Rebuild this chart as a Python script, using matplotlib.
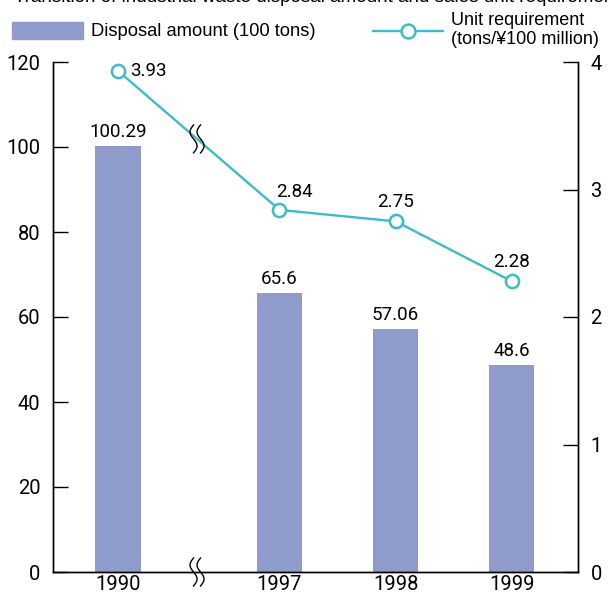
import numpy as np
import matplotlib
matplotlib.use("Agg")
import matplotlib.pyplot as plt
import matplotlib.transforms as mtransforms
from matplotlib.lines import Line2D
from matplotlib.patches import Rectangle

years = ['1990', '1997', '1998', '1999']
disposal = [100.29, 65.6, 57.06, 48.6]
unit_req = [3.93, 2.84, 2.75, 2.28]
disposal_labels = ['100.29', '65.6', '57.06', '48.6']
unit_labels = ['3.93', '2.84', '2.75', '2.28']
left_ticks = [0, 20, 40, 60, 80, 100, 120]
right_ticks = [0, 1, 2, 3, 4]

bar_color = '#8f9bcb'
line_color = '#3bbcc8'
num_font = ['Roboto', 'DejaVu Sans']
txt_font = ['Liberation Sans', 'DejaVu Sans']

# x positions: gap between 1990 and 1997 is wider (axis break)
x_pos = np.array([0, 1.39, 2.39, 3.39])
x_break = 0.68

fig = plt.figure(figsize=(6.11, 5.94), dpi=100)
ax = fig.add_axes([53 / 611, 22 / 594, 525 / 611, 510 / 594])
ax2 = ax.twinx()

ax.bar(x_pos, disposal, width=0.39, color=bar_color, zorder=2)
for x, v, lab in zip(x_pos, disposal, disposal_labels):
    ax.text(x, v + 1.2, lab, ha='center', va='bottom', fontsize=13.5, family=num_font)

ax.set_xlim(-0.56, 3.96)
ax.set_ylim(0, 120)
ax.set_yticks(left_ticks)
ax.set_xticks(x_pos)
ax.set_xticklabels(years)
ax.tick_params(axis='y', direction='in', length=11, width=1, labelsize=14.5, pad=9)
ax.tick_params(axis='x', length=0, labelsize=14.5, pad=2)
for lab in ax.get_xticklabels() + ax.get_yticklabels():
    lab.set_family(num_font)

ax2.plot(x_pos, unit_req, color=line_color, lw=1.7, marker='o', ms=9.5,
         mfc='white', mec=line_color, mew=1.8, zorder=3)
ax2.set_ylim(0, 4)
ax2.set_yticks(right_ticks)
ax2.tick_params(axis='y', direction='in', length=11, width=1, labelsize=14.5, pad=9)
for lab in ax2.get_yticklabels():
    lab.set_family(num_font)

# label offsets in pixels
offsets = [(12, 0, 'left', 'center'), (15, 9, 'center', 'bottom'),
           (0, 10, 'center', 'bottom'), (0, 10, 'center', 'bottom')]
for x, v, lab, (dx, dy, ha, va) in zip(x_pos, unit_req, unit_labels, offsets):
    ax2.annotate(lab, (x, v), xytext=(dx * 0.72, dy * 0.72), textcoords='offset points',
                 ha=ha, va=va, fontsize=13.5, family=num_font)

for a in (ax, ax2):
    a.spines['top'].set_visible(False)
    for s in a.spines.values():
        s.set_linewidth(1)

# break marks (squiggles) on the bottom axis and on the line
def squiggle(axis, xd, yd):
    t = np.linspace(-1, 1, 40)
    for dx in (-3.5, 3.5):
        xs = dx - 3.5 * np.sin(np.pi * t)
        ys = 14 * t
        tr = mtransforms.Affine2D() + mtransforms.ScaledTranslation(xd, yd, axis.transData)
        axis.add_line(Line2D(xs, ys, color='black', lw=1, transform=tr, clip_on=False, zorder=5))

squiggle(ax, x_break, 0)
y_line = np.interp(x_break, x_pos[:2], unit_req[:2])
squiggle(ax2, x_break, y_line)

# legend drawn in figure pixels
W, H = 611, 594
fig.patches.append(Rectangle((12 / W, 1 - 39 / H), 71 / W, 17 / H,
                             transform=fig.transFigure, color=bar_color))
fig.text(91 / W, 1 - 31 / H, 'Disposal amount (100 tons)', fontsize=13.2, family=txt_font,
         va='center', ha='left')
fig.lines.append(Line2D([373 / W, 443 / W], [1 - 31 / H, 1 - 31 / H], color=line_color, lw=1.7,
                        transform=fig.transFigure))
fig.lines.append(Line2D([408 / W], [1 - 31 / H], marker='o', ms=10, mfc='white', mec=line_color,
                        mew=1.8, transform=fig.transFigure))
fig.text(451 / W, 1 - 30 / H, 'Unit requirement\n(tons/¥100 million)', fontsize=13,
         family=txt_font, va='center', ha='left', linespacing=1.2)

# title, mostly cut off at the top edge
fig.text(14 / W, 1 - 2 / H, 'Transition of industrial waste disposal amount and sales unit requirement',
         fontsize=13.6, family=txt_font, va='baseline', ha='left')

fig.savefig('out.png', dpi=100)
